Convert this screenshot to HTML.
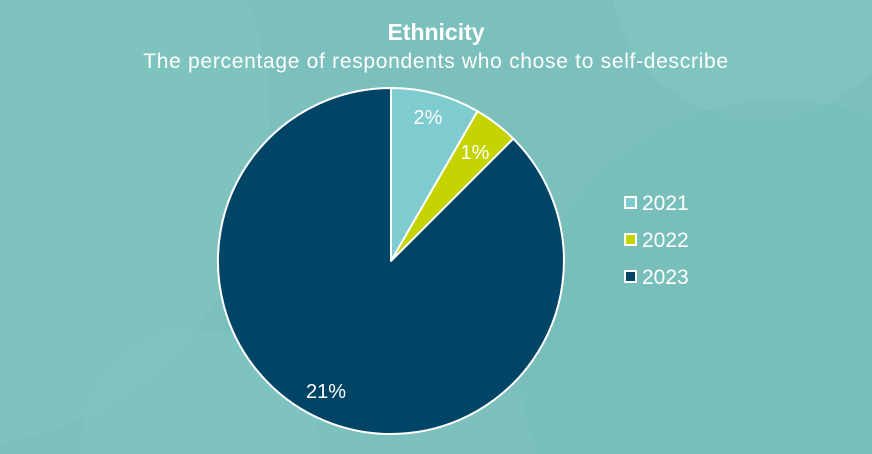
<!DOCTYPE html>
<html><head><style>
html,body{margin:0;padding:0;width:872px;height:454px;overflow:hidden;background:#7bc0bc;font-family:"Liberation Sans",sans-serif}
svg{display:block;overflow:hidden;position:absolute;left:0;top:0}
</style></head><body>
<svg width="872" height="454" viewBox="0 0 872 454" xmlns="http://www.w3.org/2000/svg">
<defs><clipPath id="c"><rect width="872" height="454"/></clipPath></defs>
<rect width="872" height="454" fill="#7bc0bc"/>
<g clip-path="url(#c)">
<circle cx="-60" cy="120" r="330" fill="#81c4c0" opacity="0.7"/>
<circle cx="760" cy="-30" r="150" fill="#86c7c3" opacity="0.5"/>
<circle cx="780" cy="360" r="260" fill="#76bbb7" opacity="0.5"/>
<circle cx="200" cy="450" r="120" fill="#82c5c1" opacity="0.5"/>
</g>
<text x="436" y="40" text-anchor="middle" font-size="23" font-weight="bold" fill="#fff">Ethnicity</text>
<text x="436" y="68" text-anchor="middle" font-size="21" letter-spacing="0.7" fill="#fff">The percentage of respondents who chose to self-describe</text>
<g stroke="#fff" stroke-width="2" stroke-linejoin="round">
<path d="M391,261 L391,88 A173,173 0 0 1 477.5,111.2 Z" fill="#7ecbd0"/>
<path d="M391,261 L477.5,111.2 A173,173 0 0 1 513.3,138.7 Z" fill="#c5d300"/>
<path d="M391,261 L513.3,138.7 A173,173 0 1 1 391,88 Z" fill="#004466"/>
</g>
<g font-size="20" fill="#fff" text-anchor="middle">
<text x="428" y="124">2%</text>
<text x="475" y="159">1%</text>
<text x="326" y="398">21%</text>
</g>
<g stroke="#fff" stroke-width="2">
<rect x="625" y="197" width="11" height="11" fill="#7ecbd0"/>
<rect x="625" y="234" width="11" height="11" fill="#c5d300"/>
<rect x="625" y="271" width="11" height="11" fill="#004466"/>
</g>
<g font-size="21" fill="#fff">
<text x="642" y="210">2021</text>
<text x="642" y="247">2022</text>
<text x="642" y="284">2023</text>
</g>
</svg>
</body></html>
